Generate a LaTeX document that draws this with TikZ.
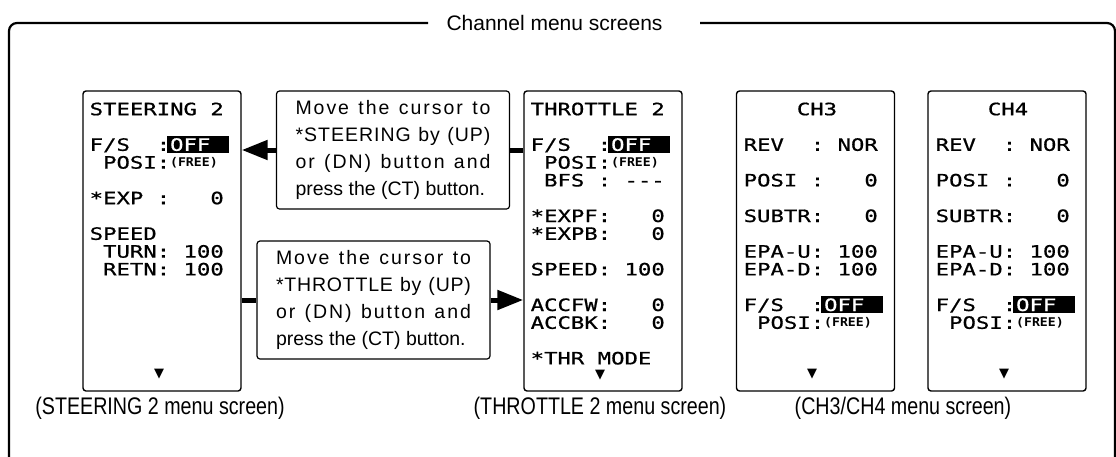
\documentclass[tikz,border=0pt]{standalone}
\usepackage{fontspec}
\setmainfont{Liberation Sans}
\newfontfamily\lcdfont[FakeStretch=1.31,FakeBold=0.8]{DejaVu Sans Mono}
\newfontfamily\lcdsmall[FakeStretch=1.1]{DejaVu Sans Mono}
\newfontfamily\capfont[FakeStretch=0.82]{Liberation Sans}
\newfontfamily\symfont{DejaVu Sans}
\usetikzlibrary{arrows.meta}
\newcommand\lrow[4]{\node[lcd] (#1) at (#2,{115.2+17.8*#3}) {#4};}
\newcommand\offbox[3]{%
  \fill[hilite] ({#2+6*13.4-3},{115.2+17.8*#3-14.7}) rectangle ({#2+10*13.4+5},{115.2+17.8*#3+2.3});
  \node[lcd,text=white] (#1) at ({#2+6*13.4},{115.2+17.8*#3}) {OFF};}
\newcommand\freetxt[3]{\node[lcdsm] (#1) at ({#2+6*13.4},{115.2+17.8*#3-2.5}) {(FREE)};}
\def\spreadA#1{\ifx\relax#1\unskip\else#1\hfill\expandafter\spreadA\fi}
\newcommand\iline[1]{\leavevmode\hbox to 195pt{\spreadA#1\relax}}
\begin{document}
\begin{tikzpicture}[x=1pt,y=-1pt,
 screen/.style={draw=black, line width=1.4pt, rounded corners=3pt, minimum width=158pt, minimum height=300pt, inner sep=0pt},
 instr/.style={draw=black, line width=1.2pt, rounded corners=3pt, minimum width=233pt, minimum height=118pt, inner sep=0pt, font=\fontsize{19.5}{27}\selectfont},
 lcd/.style={inner sep=0pt, anchor=base west, font=\lcdfont\fontsize{17}{17}\selectfont},
 lcdsm/.style={inner sep=0pt, anchor=base west, font=\lcdsmall\bfseries\fontsize{12}{12}\selectfont},
 hilite/.style={fill=black, draw=none},
 conn/.style={line width=5pt},
 arr/.style={line width=5pt, -{Triangle[length=26pt,width=19pt]}},
 frame/.style={line width=2.2pt, rounded corners=8pt},
 caption/.style={font=\capfont\fontsize{24}{24}\selectfont, inner sep=0pt, anchor=base},
 title/.style={font=\fontsize{21}{21}\selectfont, inner sep=0pt, anchor=base},
 down/.style={font=\symfont\fontsize{13}{13}\selectfont, inner sep=0pt}]
\useasboundingbox (0,0) rectangle (1116,456);

% outer frame and title
\draw[frame] (9,470) -- (9,23) -- (428,23);
\draw[frame] (700,23) -- (1115,23) -- (1115,470);
\node[title] (title) at (554.5,30) {Channel menu screens};

% screens
\node[screen] (steer) at (162,241) {};
\node[screen] (thr) at (603,241) {};
\node[screen] (ch3) at (815.5,241) {};
\node[screen] (ch4) at (1007,241) {};

% instruction boxes
\node[instr] (ins1) at (393,150) {\parbox{195pt}{\iline{Move~the~cursor~to}\\\iline{*STEERING~by~(UP)}\\\iline{or~(DN)~button~and}\\press the (CT) button.}};
\node[instr] (ins2) at (373.5,300) {\parbox{195pt}{\iline{Move~the~cursor~to}\\\iline{*THROTTLE~by~(UP)}\\\iline{or~(DN)~button~and}\\press the (CT) button.}};

% connectors
\draw[arr] (ins1.west) -- (ins1.west -| steer.east);
\draw[conn] (ins1.east -| thr.west) -- (ins1.east);
\draw[conn] (ins2.west -| steer.east) -- (ins2.west);
\draw[arr] (ins2.east) -- (ins2.east -| thr.west);

% STEERING 2 screen
\lrow{s0}{89.5}{0}{STEERING~2}
\lrow{s2}{89.5}{2}{F/S~~:}
\offbox{s2o}{89.5}{2}
\lrow{s3}{89.5}{3}{~POSI:}
\freetxt{s3f}{89.5}{3}
\lrow{s5}{89.5}{5}{*EXP~:~~~0}
\lrow{s7}{89.5}{7}{SPEED}
\lrow{s8}{89.5}{8}{~TURN:~100}
\lrow{s9}{89.5}{9}{~RETN:~100}
\node[down] (sd) at (159,374) {▼};

% THROTTLE 2 screen
\lrow{t0}{530.5}{0}{THROTTLE~2}
\lrow{t2}{530.5}{2}{F/S~~:}
\offbox{t2o}{530.5}{2}
\lrow{t3}{530.5}{3}{~POSI:}
\freetxt{t3f}{530.5}{3}
\lrow{t4}{530.5}{4}{~BFS~:~{-}{-}{-}}
\lrow{t6}{530.5}{6}{*EXPF:~~~0}
\lrow{t7}{530.5}{7}{*EXPB:~~~0}
\lrow{t9}{530.5}{9}{SPEED:~100}
\lrow{t11}{530.5}{11}{ACCFW:~~~0}
\lrow{t12}{530.5}{12}{ACCBK:~~~0}
\lrow{t14}{530.5}{14}{*THR~MODE}
\node[down] (td) at (600,375.5) {▼};

% CH3 screen
\node[lcd,anchor=base] (c0) at (817,115.2) {CH3};
\lrow{c2}{743.5}{2}{REV~~:~NOR}
\lrow{c4}{743.5}{4}{POSI~:~~~0}
\lrow{c6}{743.5}{6}{SUBTR:~~~0}
\lrow{c8}{743.5}{8}{EPA-U:~100}
\lrow{c9}{743.5}{9}{EPA-D:~100}
\lrow{c11}{743.5}{11}{F/S~~:}
\offbox{c11o}{743.5}{11}
\lrow{c12}{743.5}{12}{~POSI:}
\freetxt{c12f}{743.5}{12}
\node[down] (cd) at (812,374) {▼};

% CH4 screen
\node[lcd,anchor=base] (d0) at (1008,115.2) {CH4};
\lrow{d2}{935.5}{2}{REV~~:~NOR}
\lrow{d4}{935.5}{4}{POSI~:~~~0}
\lrow{d6}{935.5}{6}{SUBTR:~~~0}
\lrow{d8}{935.5}{8}{EPA-U:~100}
\lrow{d9}{935.5}{9}{EPA-D:~100}
\lrow{d11}{935.5}{11}{F/S~~:}
\offbox{d11o}{935.5}{11}
\lrow{d12}{935.5}{12}{~POSI:}
\freetxt{d12f}{935.5}{12}
\node[down] (dd) at (1004,374) {▼};

% captions
\node[caption] (cap1) at (160,414) {(STEERING 2 menu screen)};
\node[caption] (cap2) at (600,414) {(THROTTLE 2 menu screen)};
\node[caption] (cap3) at (903,414) {(CH3/CH4 menu screen)};
\end{tikzpicture}
\end{document}
